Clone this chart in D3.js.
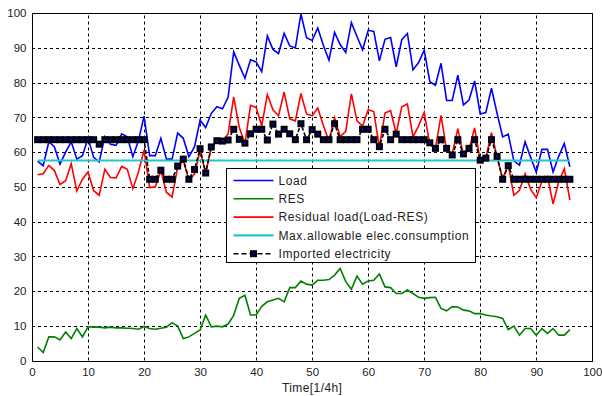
<!DOCTYPE html>
<html>
<head>
<meta charset="utf-8">
<script src="https://cdn.jsdelivr.net/npm/d3@7"></script>
<style>
  body { margin: 0; background: #fff; }
  svg { display: block; }
  text { font-family: "Liberation Sans", Arial, sans-serif; fill: #222; }
</style>
</head>
<body>
<svg id="chart"></svg>
<script>
// time steps 1..96 (quarter hours)
const load = [57.4, 56.1, 63.0, 61.5, 56.6, 60.0, 63.0, 58.0, 59.0, 64.0,
  58.5, 57.2, 64.5, 62.3, 62.0, 65.3, 64.4, 58.7, 63.3, 70.4,
  59.0, 59.0, 64.0, 58.0, 58.0, 65.5, 64.0, 58.7, 61.5, 69.2,
  67.1, 71.2, 73.1, 72.5, 75.8, 88.9, 85.0, 81.3, 86.6, 86.0,
  83.2, 93.5, 89.6, 88.4, 94.2, 90.6, 90.0, 99.8, 93.0, 92.2,
  95.8, 90.8, 86.5, 94.5, 91.0, 88.7, 97.3, 93.3, 89.5, 95.1,
  94.8, 86.3, 92.5, 93.0, 84.6, 92.4, 94.2, 83.7, 85.8, 89.4,
  80.3, 79.3, 85.6, 74.9, 74.9, 82.2, 73.6, 75.0, 80.5, 71.0,
  71.4, 78.4, 71.2, 64.4, 65.2, 57.5, 56.3, 63.0, 58.5, 54.2,
  60.8, 60.8, 54.3, 58.8, 62.5, 55.8];

const res = [3.9, 2.3, 6.8, 6.8, 5.9, 8.2, 6.3, 9.2, 6.8, 9.7,
  9.6, 9.6, 9.4, 9.6, 9.4, 9.4, 9.3, 9.2, 9.0, 9.8,
  9.2, 9.0, 9.3, 9.6, 10.9, 9.9, 6.3, 6.8, 7.8, 8.8,
  13.1, 9.7, 9.9, 9.7, 10.5, 13.0, 17.9, 18.8, 13.1, 13.1,
  15.6, 16.9, 17.4, 17.9, 16.9, 21.0, 21.0, 22.9, 22.0, 21.7,
  23.1, 23.1, 23.3, 24.6, 26.5, 22.7, 20.5, 24.3, 22.0, 22.9,
  23.1, 24.9, 21.2, 21.0, 19.3, 19.3, 20.3, 19.3, 18.2, 17.9,
  18.1, 18.2, 15.0, 14.3, 15.5, 15.4, 14.5, 14.3, 13.5, 13.5,
  13.1, 12.8, 12.6, 12.1, 8.9, 9.9, 7.3, 9.2, 9.2, 7.3,
  9.2, 7.8, 9.2, 7.3, 7.3, 8.9];

const residual = [53.5, 53.8, 56.2, 54.7, 50.7, 51.8, 56.7, 48.8, 52.2, 54.3,
  48.9, 47.6, 55.1, 52.7, 52.6, 55.9, 55.1, 49.5, 54.3, 60.6,
  49.8, 50.0, 54.7, 48.4, 47.1, 55.6, 57.7, 51.9, 53.7, 60.4,
  54.0, 61.5, 63.2, 62.8, 65.3, 75.9, 67.1, 62.5, 73.5, 72.9,
  67.6, 76.6, 72.2, 70.5, 77.3, 69.6, 69.0, 76.9, 71.0, 70.5,
  72.7, 67.7, 63.2, 69.9, 64.5, 66.0, 76.8, 69.0, 67.5, 72.2,
  71.7, 61.4, 71.3, 72.0, 65.3, 73.1, 73.9, 64.4, 67.6, 71.5,
  62.2, 61.1, 70.6, 60.6, 59.4, 66.8, 59.1, 60.7, 67.0, 57.5,
  58.3, 65.6, 58.6, 52.3, 56.3, 47.6, 49.0, 53.8, 49.3, 46.9,
  51.6, 53.0, 45.1, 51.5, 55.2, 46.2];

const maxAllowed = 57.6;

const imported = [63.6, 63.6, 63.6, 63.6, 63.6, 63.6, 63.6, 63.6, 63.6, 63.6,
  63.6, 62.3, 63.6, 63.6, 63.6, 63.6, 63.6, 63.6, 63.6, 63.6,
  52.2, 52.2, 54.8, 52.2, 52.2, 56.0, 58.0, 52.2, 55.0, 61.0,
  54.0, 61.5, 63.3, 63.2, 63.5, 66.6, 63.7, 62.6, 65.3, 66.6,
  66.6, 63.5, 68.1, 65.2, 66.6, 65.3, 63.6, 68.2, 63.6, 66.5,
  65.2, 63.6, 63.6, 68.2, 63.6, 63.6, 63.6, 63.6, 66.6, 66.6,
  63.6, 61.6, 66.6, 63.6, 65.2, 63.6, 63.6, 63.6, 63.6, 63.6,
  62.7, 61.1, 63.6, 61.1, 59.2, 63.6, 59.5, 61.1, 63.6, 57.7,
  58.3, 63.6, 58.8, 52.2, 56.1, 52.2, 52.2, 52.2, 52.2, 52.2,
  52.2, 52.2, 52.2, 52.2, 52.2, 52.2];

const xTicks = [0, 10, 20, 30, 40, 50, 60, 70, 80, 90, 100];
const yTicks = [0, 10, 20, 30, 40, 50, 60, 70, 80, 90, 100];

const legendNames = ["Load", "RES", "Residual load(Load-RES)", "Max.allowable elec.consumption", "Imported electricity"];
const colors = ["#0000ff", "#008000", "#ff0000", "#20c8c8", "#000000"];

const W = 602, H = 396;
const margin = { top: 13.3, right: 9.7, bottom: 35.5, left: 32 };

const svg = d3.select("#chart").attr("width", W).attr("height", H);

const x = d3.scaleLinear().domain([0, 100]).range([margin.left, W - margin.right]);
const y = d3.scaleLinear().domain([0, 100]).range([H - margin.bottom, margin.top]);

const steps = load.map((d, i) => i + 1);

// grid
const grid = svg.append("g")
    .attr("stroke", "#000")
    .attr("stroke-width", 1)
    .attr("stroke-dasharray", "3,3");

grid.selectAll("line.vx")
    .data(xTicks.slice(1, -1))
    .join("line")
    .attr("x1", d => Math.round(x(d)) + 0.5)
    .attr("x2", d => Math.round(x(d)) + 0.5)
    .attr("y1", y(0))
    .attr("y2", y(100));

grid.selectAll("line.hy")
    .data(yTicks.slice(1, -1))
    .join("line")
    .attr("y1", d => Math.round(y(d)) + 0.5)
    .attr("y2", d => Math.round(y(d)) + 0.5)
    .attr("x1", x(0))
    .attr("x2", x(100));

// axes
const xAxis = g => g
    .attr("transform", `translate(0,${Math.round(y(0)) + 0.5})`)
    .call(d3.axisBottom(x).tickValues(xTicks).tickSize(0).tickPadding(6))
    .call(g => g.select(".domain").remove());

const yAxis = g => g
    .attr("transform", `translate(${Math.round(x(0)) + 0.5},0)`)
    .call(d3.axisLeft(y).tickValues(yTicks).tickSize(0).tickPadding(6))
    .call(g => g.select(".domain").remove());

svg.append("g").call(xAxis)
    .selectAll("text").attr("font-size", 11.5).attr("font-family", "Liberation Sans, Arial, sans-serif").attr("fill", "#222");
svg.append("g").call(yAxis)
    .selectAll("text").attr("font-size", 11.5).attr("font-family", "Liberation Sans, Arial, sans-serif").attr("fill", "#222");

// series
const line = d3.line().x((d, i) => x(steps[i])).y(d => y(d));

svg.append("path").datum(load)
    .attr("fill", "none").attr("stroke", colors[0]).attr("stroke-width", 1.6)
    .attr("d", line);

svg.append("path").datum(res)
    .attr("fill", "none").attr("stroke", colors[1]).attr("stroke-width", 1.6)
    .attr("d", line);

svg.append("path").datum(residual)
    .attr("fill", "none").attr("stroke", colors[2]).attr("stroke-width", 1.6)
    .attr("d", line);

svg.append("path").datum(steps.map(() => maxAllowed))
    .attr("fill", "none").attr("stroke", colors[3]).attr("stroke-width", 2.2)
    .attr("d", line);

svg.append("path").datum(imported)
    .attr("fill", "none").attr("stroke", "#000").attr("stroke-width", 1.6)
    .attr("stroke-dasharray", "4,2")
    .attr("d", line);

const marks = svg.append("g");
marks.selectAll("rect.sq")
    .data(imported)
    .join("rect")
    .attr("x", (d, i) => x(steps[i]) - 3.5)
    .attr("y", d => y(d) - 3.5)
    .attr("width", 7).attr("height", 7)
    .attr("fill", "#000");
marks.selectAll("rect.dot")
    .data(imported)
    .join("rect")
    .attr("x", (d, i) => x(steps[i]) - 1)
    .attr("y", d => y(d) - 1)
    .attr("width", 2).attr("height", 2)
    .attr("fill", "#0000ff");

// frame
svg.append("rect")
    .attr("x", Math.round(x(0)) + 0.5).attr("y", Math.round(y(100)) + 0.5)
    .attr("width", Math.round(x(100)) - Math.round(x(0)))
    .attr("height", Math.round(y(0)) - Math.round(y(100)))
    .attr("fill", "none").attr("stroke", "#000").attr("stroke-width", 1);

// x label
svg.append("text")
    .attr("x", (x(0) + x(100)) / 2)
    .attr("y", 392)
    .attr("text-anchor", "middle")
    .attr("font-size", 12)
    .attr("letter-spacing", 0.4)
    .text("Time[1/4h]");

// legend
const lg = svg.append("g").attr("transform", "translate(226.5,168.5)");
lg.append("rect")
    .attr("width", 249).attr("height", 94)
    .attr("fill", "#fff").attr("stroke", "#000").attr("stroke-width", 1);

const rowY = i => 12 + i * 18.3;
legendNames.forEach((name, i) => {
    const row = lg.append("g").attr("transform", `translate(0,${rowY(i)})`);
    const ln = row.append("line")
        .attr("x1", 7).attr("x2", 47).attr("y1", 0).attr("y2", 0)
        .attr("stroke", colors[i]).attr("stroke-width", i === 3 ? 2.2 : 1.6);
    if (i === 4) {
        ln.attr("stroke-dasharray", "5,3");
        row.append("rect").attr("x", 23.5).attr("y", -3.5).attr("width", 7).attr("height", 7).attr("fill", "#000");
        row.append("rect").attr("x", 26).attr("y", -1).attr("width", 2).attr("height", 2).attr("fill", "#0000ff");
    }
    row.append("text")
        .attr("x", 52).attr("y", 0).attr("dy", "0.35em")
        .attr("font-size", 12)
        .attr("letter-spacing", 0.6)
        .text(name);
});
</script>
</body>
</html>
